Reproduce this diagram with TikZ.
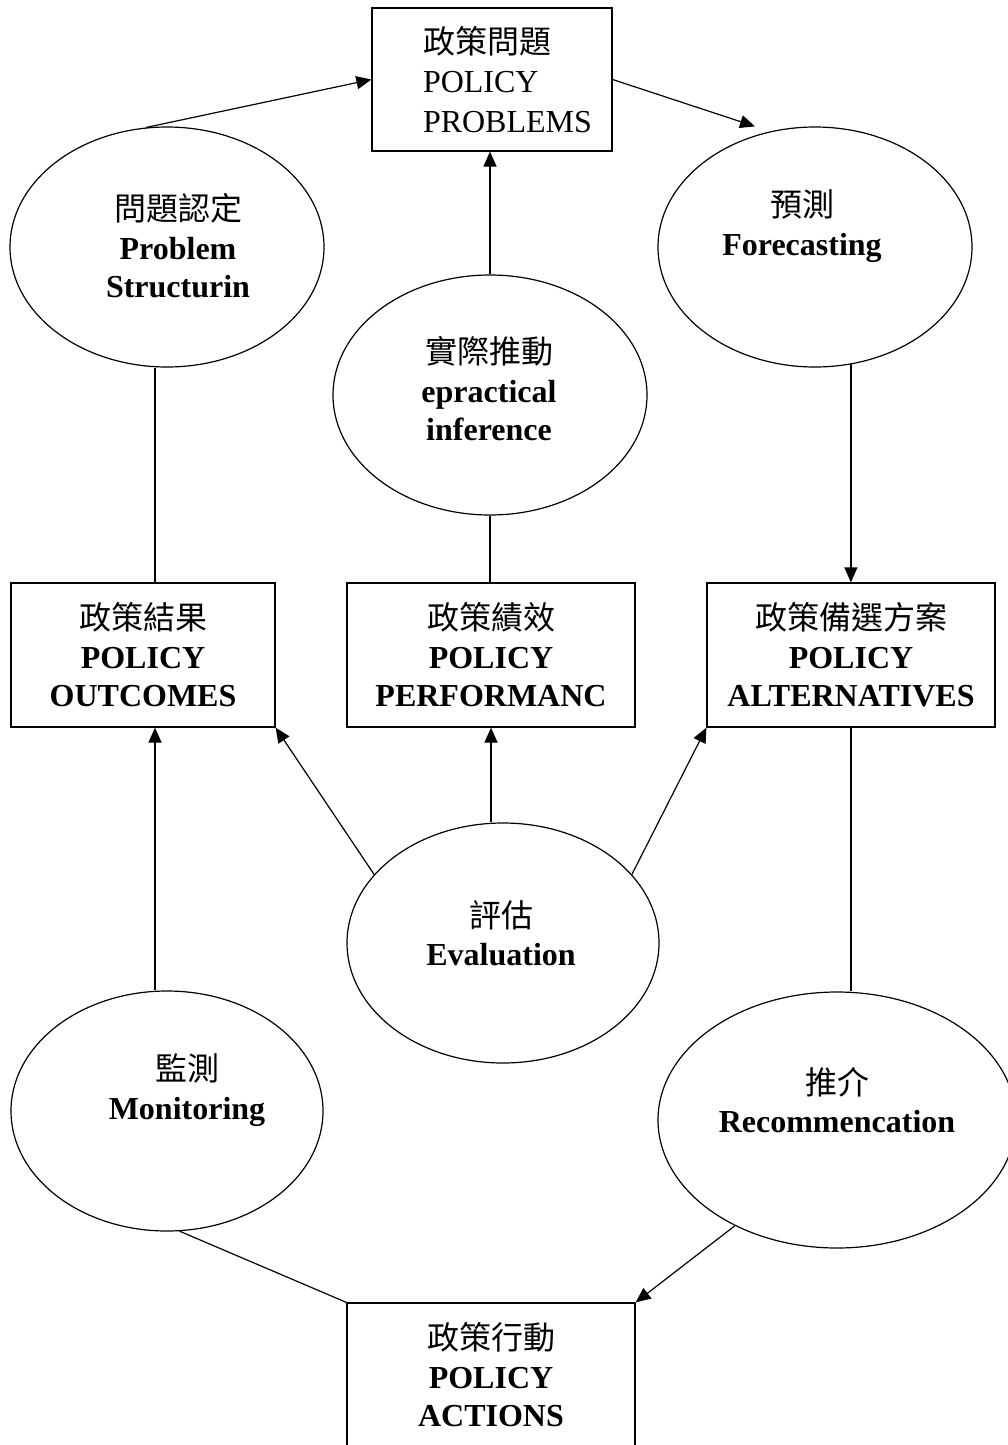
\documentclass[tikz,border=0pt]{standalone}
\usepackage{fontspec}
\setmainfont{Liberation Serif}
\newfontfamily\cjk{Noto Sans CJK TC}
\newcommand{\zh}[1]{{\cjk\mdseries #1}}
\usetikzlibrary{shapes.geometric,arrows.meta}

\begin{document}
\begin{tikzpicture}[x=1pt,y=-1pt,line width=1.2pt,
  box/.style={draw,rectangle,inner sep=0pt,minimum width=288pt,minimum height=144pt,
    align=center,font=\fontsize{32}{38.5}\selectfont\bfseries},
  oval/.style={draw,ellipse,inner sep=0pt,minimum width=314pt,minimum height=240pt},
  ovaltext/.style={inner sep=0pt,align=center,font=\fontsize{32}{38.5}\selectfont\bfseries},
  arr/.style={-{Triangle[length=15pt,width=13pt]}}]
\fill[white] (0,0) rectangle (1008,1445);
\useasboundingbox (0,0) rectangle (1008,1445);
% boxes
\node[box,minimum width=240pt,minimum height=143pt,font=\fontsize{32}{39.5}\selectfont,
  align=left,text width=138pt] (problems) at (492,79.5) {\zh{政策問題}\\POLICY\\PROBLEMS};
\node[box,minimum width=264pt] (outcomes) at (143,655) {\zh{政策結果}\\POLICY\\OUTCOMES};
\node[box] (performance) at (491,655) {\zh{政策績效}\\POLICY\\PERFORMANC};
\node[box] (alternatives) at (851,655) {\zh{政策備選方案}\\POLICY\\ALTERNATIVES};
\node[box] (actions) at (491,1375) {\zh{政策行動}\\POLICY\\ACTIONS};
% ellipses, text set off-centre as in the original
\node[oval,label={[ovaltext,xshift=11pt,yshift=1pt]center:{\zh{問題認定}\\Problem\\Structurin}}]
  (probstruct) at (167,247) {};
\node[oval,label={[ovaltext,xshift=-13pt,yshift=21pt]center:{\zh{預測}\\Forecasting}}]
  (forecasting) at (815,247) {};
\node[oval,label={[ovaltext,xshift=-1pt,yshift=6pt]center:{\zh{實際推動}\\epractical\\inference}}]
  (pracinf) at (490,395) {};
\node[oval,minimum width=312pt,label={[ovaltext,xshift=-2pt,yshift=10pt]center:{\zh{評估}\\Evaluation}}]
  (evaluation) at (503,943) {};
\node[oval,minimum width=312pt,label={[ovaltext,xshift=20pt,yshift=21pt]center:{\zh{監測}\\Monitoring}}]
  (monitoring) at (167,1111) {};
\node[oval,minimum width=358pt,minimum height=256pt,
  label={[ovaltext,yshift=20pt]center:{\zh{推介}\\Recommencation}}] (recommend) at (837,1120) {};
% connectors
\draw[arr] (probstruct.100) -- (problems.west);
\draw[arr] (problems.east) -- ([xshift=-60pt]forecasting.north);
\draw[arr] (pracinf.north) -- (pracinf.north |- problems.south);
\draw ([xshift=-12pt]probstruct.south) -- ([xshift=-12pt]probstruct.south |- outcomes.north);
\draw[arr] (forecasting.287) -- (forecasting.287 |- alternatives.north);
\draw (pracinf.south) -- (pracinf.south |- performance.north);
\draw[arr] (evaluation.152) -- (outcomes.south east);
\draw[arr] (evaluation.north -| performance.south) -- (performance.south);
\draw[arr] (evaluation.28) -- (alternatives.south west);
\draw[arr] ([xshift=-12pt]monitoring.north) -- ([xshift=-12pt]monitoring.north |- outcomes.south);
\draw (alternatives.south) -- (alternatives.south |- recommend.north);
\draw (monitoring.276) -- (actions.north west);
\draw[arr] (recommend.226) -- (actions.north east);
\end{tikzpicture}
\end{document}
